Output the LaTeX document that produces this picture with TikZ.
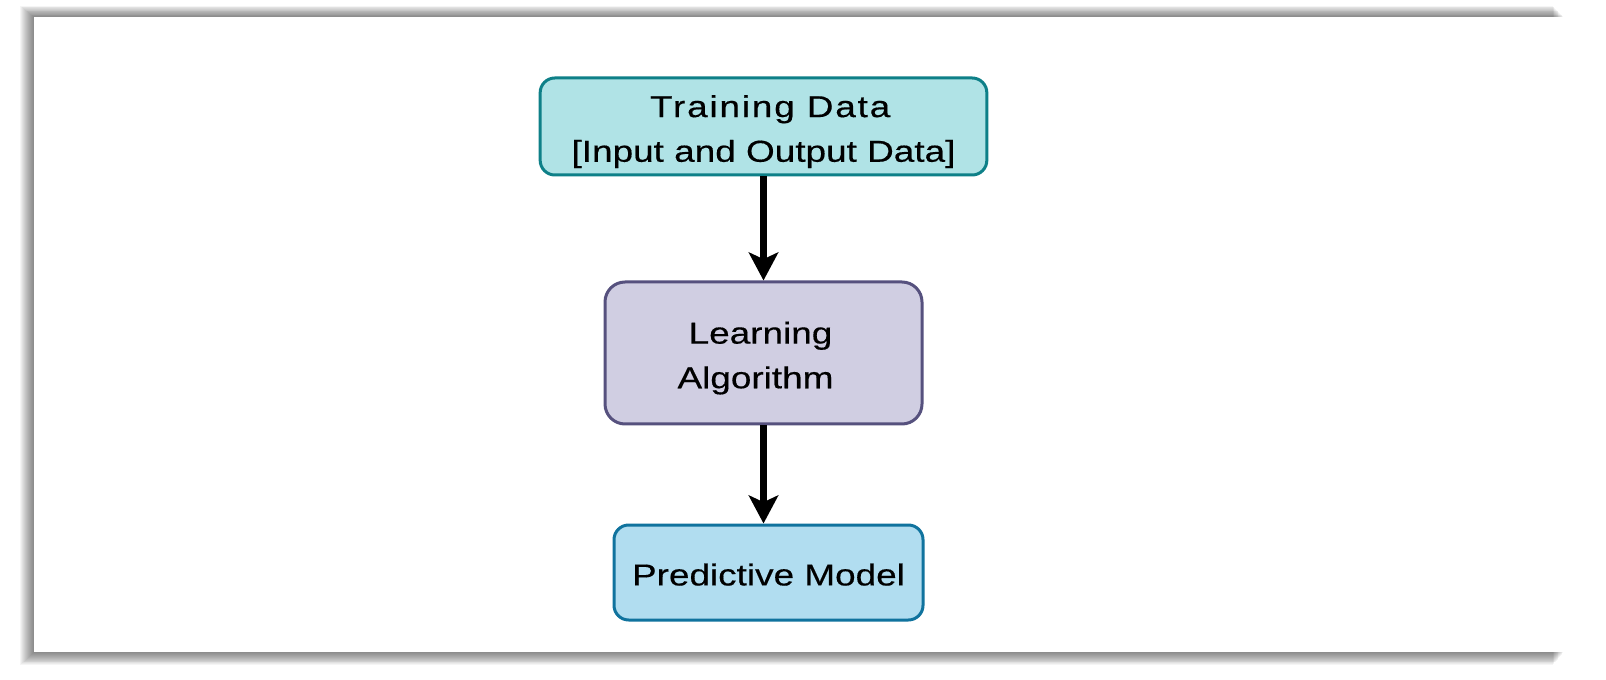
\documentclass[tikz,border=0pt]{standalone}
\usepackage{fontspec}
\setmainfont{Liberation Sans}[FakeStretch=1.22, FakeBold=0.4]
\usetikzlibrary{arrows.meta}
\definecolor{tdfill}{HTML}{B0E3E6}
\definecolor{tddraw}{HTML}{0E8088}
\definecolor{lafill}{HTML}{D0CEE2}
\definecolor{ladraw}{HTML}{56517E}
\definecolor{pmfill}{HTML}{B1DDF0}
\definecolor{pmdraw}{HTML}{10739E}
\newcommand{\lowtext}[1]{\raisebox{-3pt}[\height][\depth]{\begin{tabular}{@{}c@{}}#1\end{tabular}}}
\tikzset{
  boxstyle/.style={draw, line width=2.25pt, align=center, inner sep=0pt,
    font=\fontsize{22.7}{33.5}\selectfont, text=black},
  flowarrow/.style={line width=5pt, -{Stealth[length=21pt, width=22pt, inset=5pt]}},
}
\begin{document}
\begin{tikzpicture}[x=0.75pt, y=-0.75pt]
\useasboundingbox (0,0) rectangle (1606,680);
\fill[white] (0,0) rectangle (1606,680);
% shadow of the panel
\foreach \i in {1,...,14} {
  \fill[black, opacity=0.04] (34-\i, 17-0.8*\i) rectangle (1564-0.8*\i, 652+0.95*\i);
}
\fill[white] (34,17) rectangle (1568,652);
% nodes
\node[boxstyle, fill=tdfill, draw=tddraw, rounded corners=11pt,
  minimum width=335pt, minimum height=72.75pt] (td) at (763.5,126.5)
  {\lowtext{\hspace*{10pt}{\addfontfeature{LetterSpace=6}Training Data}\\{[}Input and Output Data{]}}};
\node[boxstyle, fill=lafill, draw=ladraw, rounded corners=15pt,
  minimum width=237.75pt, minimum height=106.5pt] (la) at (763.5,353)
  {\lowtext{Learning\hspace*{4.5pt}\\Algorithm\hspace*{12pt}}};
\node[boxstyle, fill=pmfill, draw=pmdraw, rounded corners=11pt,
  minimum width=231.75pt, minimum height=71.25pt] (pm) at (768.5,572.5)
  {\lowtext{Predictive Model}};
% connectors
\draw[flowarrow] (td.south) -- (la.north);
\draw[flowarrow] (la.south) -- (la.south |- pm.north);
\end{tikzpicture}
\end{document}
